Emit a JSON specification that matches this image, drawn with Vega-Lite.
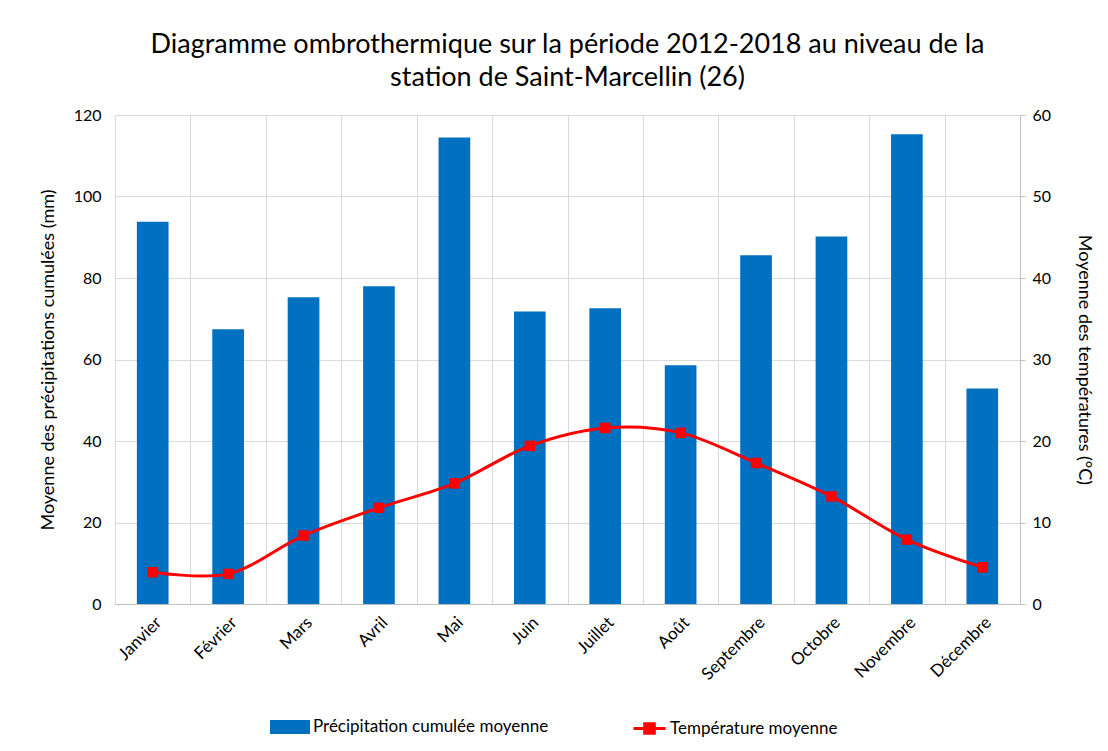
{
  "$schema": "https://vega.github.io/schema/vega-lite/v6.json",
  "autosize": {"type": "none"},
  "width": 905,
  "height": 489,
  "padding": {"left": 115, "top": 115, "right": 88, "bottom": 147},
  "background": "white",
  "title": {
    "text": ["Diagramme ombrothermique sur la période 2012-2018 au niveau de la", "station de Saint-Marcellin (26)"],
    "font": "Lato",
    "fontSize": 27,
    "fontWeight": "normal",
    "color": "#000000",
    "lineHeight": 33,
    "offset": 15,
    "anchor": "middle"
  },
  "data": {
    "values": [
      {"mois": "Janvier", "precip": 93.8, "temp": 3.9},
      {"mois": "Février", "precip": 67.4, "temp": 3.7},
      {"mois": "Mars", "precip": 75.3, "temp": 8.4},
      {"mois": "Avril", "precip": 78.0, "temp": 11.8},
      {"mois": "Mai", "precip": 114.5, "temp": 14.8},
      {"mois": "Juin", "precip": 71.8, "temp": 19.4},
      {"mois": "Juillet", "precip": 72.6, "temp": 21.6},
      {"mois": "Août", "precip": 58.6, "temp": 21.0},
      {"mois": "Septembre", "precip": 85.6, "temp": 17.3},
      {"mois": "Octobre", "precip": 90.2, "temp": 13.2},
      {"mois": "Novembre", "precip": 115.3, "temp": 7.9},
      {"mois": "Décembre", "precip": 52.9, "temp": 4.5}
    ]
  },
  "encoding": {
    "x": {
      "field": "mois",
      "type": "nominal",
      "sort": null,
      "scale": {"paddingInner": 0, "paddingOuter": 0},
      "axis": {
        "title": null,
        "labelAngle": -45,
        "labelFont": "Lato",
        "labelFontSize": 17,
        "labelColor": "#000000",
        "labelPadding": 10,
        "tickBand": "extent",
        "ticks": false,
        "grid": true,
        "gridColor": "#D9D9D9",
        "domainColor": "#BFBFBF",
        "labelLimit": 200
      }
    }
  },
  "layer": [
    {
      "mark": {"type": "bar", "width": {"band": 0.42}, "color": "#0070C0"},
      "encoding": {
        "y": {
          "field": "precip",
          "type": "quantitative",
          "scale": {"domain": [0, 120]},
          "axis": {
            "title": "Moyenne des précipitations cumulées (mm)",
            "orient": "left",
            "values": [0, 20, 40, 60, 80, 100, 120],
            "grid": true,
            "gridColor": "#D9D9D9",
            "ticks": false,
            "domain": false,
            "labelFont": "Lato",
            "labelFontSize": 16,
            "labelColor": "#000000",
            "labelPadding": 14,
            "titleFont": "Lato",
            "titleFontSize": 18,
            "titleFontWeight": "normal",
            "titleColor": "#000000",
            "titlePadding": 16
          }
        },
        "fill": {
          "datum": "Précipitation cumulée moyenne",
          "type": "nominal",
          "scale": {"range": ["#0070C0"]},
          "legend": {
            "title": null,
            "orient": "none",
            "legendX": 155,
            "legendY": 592,
            "padding": 0,
            "symbolType": "M-1,-0.35H1V0.35H-1Z",
            "symbolSize": 1600,
            "symbolStrokeWidth": 0,
            "labelFont": "Lato",
            "labelFontSize": 17,
            "labelColor": "#000000",
            "labelOffset": 3,
            "labelLimit": 400
          }
        }
      }
    },
    {
      "mark": {"type": "line", "interpolate": "catmull-rom", "strokeWidth": 3},
      "encoding": {
        "y": {
          "field": "temp",
          "type": "quantitative",
          "scale": {"domain": [0, 60]},
          "axis": {
            "title": "Moyenne des températures (°C)",
            "orient": "right",
            "values": [0, 10, 20, 30, 40, 50, 60],
            "grid": false,
            "ticks": true,
            "tickSize": 5,
            "tickColor": "#BFBFBF",
            "domain": true,
            "domainColor": "#BFBFBF",
            "labelFont": "Lato",
            "labelFontSize": 16,
            "labelColor": "#000000",
            "labelPadding": 7,
            "titleFont": "Lato",
            "titleFontSize": 18,
            "titleFontWeight": "normal",
            "titleColor": "#000000",
            "titlePadding": 24
          }
        },
        "stroke": {
          "datum": "Température moyenne",
          "type": "nominal",
          "scale": {"range": ["#FF0000"]},
          "legend": {
            "title": null,
            "orient": "none",
            "legendX": 517,
            "legendY": 596,
            "padding": 0,
            "symbolType": "M-1,0H1M-0.3,-0.3H0.3V0.3H-0.3Z",
            "symbolSize": 1024,
            "symbolFillColor": "#FF0000",
            "symbolStrokeWidth": 3,
            "labelFont": "Lato",
            "labelFontSize": 17,
            "labelColor": "#000000",
            "labelOffset": 3,
            "labelLimit": 400
          }
        }
      }
    },
    {
      "mark": {"type": "point", "shape": "square", "filled": true, "size": 110, "color": "#FF0000", "opacity": 1},
      "encoding": {
        "y": {"field": "temp", "type": "quantitative", "scale": {"domain": [0, 60]}, "axis": null}
      }
    }
  ],
  "resolve": {"scale": {"y": "independent"}},
  "config": {
    "view": {"stroke": null}
  }
}
